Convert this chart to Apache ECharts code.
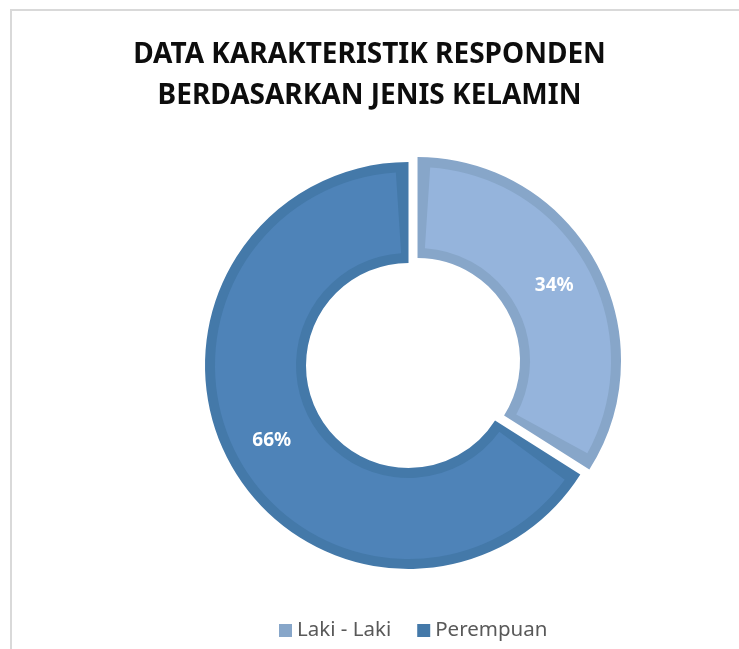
<!DOCTYPE html>
<html>
<head>
<meta charset="utf-8">
<script src="https://cdn.jsdelivr.net/npm/echarts@6/dist/echarts.min.js"></script>
<style>
  html, body { margin: 0; padding: 0; background: #fff; }
  #main { position: absolute; left: 0; top: 0; width: 739px; height: 649px; }
  #frame { position: absolute; left: 10px; top: 9px; right: 0; bottom: 0;
           border-top: 2px solid #d9d9d9; border-left: 2px solid #d9d9d9; pointer-events: none; }
</style>
</head>
<body>
<div id="main"></div>
<div id="frame"></div>
<script>
const categories = ['Laki - Laki', 'Perempuan'];
const values = [34, 66];
const fillColors = ['#95b4dc', '#4e83b8'];
const edgeColors = ['#87a6c9', '#4479a9'];

const chart = echarts.init(document.getElementById('main'));

// outline ring drawn underneath, the lighter fill ring is laid on top of it
const common = {
  type: 'pie',
  center: [408.5, 365.5],
  startAngle: 90,
  clockwise: true,
  selectedMode: 'single',
  selectedOffset: 10.3,
  percentPrecision: 0,
  emphasis: { disabled: true },
  labelLine: { show: false }
};

chart.setOption({
  animation: false,
  title: {
    text: 'DATA KARAKTERISTIK RESPONDEN\nBERDASARKAN JENIS KELAMIN',
    left: 'center',
    top: 30,
    textStyle: {
      fontFamily: 'Noto Sans',
      fontWeight: 'bold',
      fontSize: 28,
      lineHeight: 41,
      color: '#0d0d0d'
    }
  },
  legend: {
    bottom: 3,
    left: 274,
    icon: 'rect',
    itemWidth: 13,
    itemHeight: 13,
    itemGap: 26,
    textStyle: { fontFamily: 'Noto Sans', fontSize: 20.5, color: '#595959' },
    data: categories.map((name, i) => ({
      name,
      itemStyle: { color: edgeColors[i], borderWidth: 0 }
    }))
  },
  series: [
    Object.assign({}, common, {
      radius: [102.5, 203.5],
      label: { show: false },
      data: categories.map((name, i) => ({
        name,
        value: values[i],
        selected: i === 0,
        itemStyle: { color: edgeColors[i], borderWidth: 0 }
      }))
    }),
    Object.assign({}, common, {
      radius: [112.5, 193.5],
      padAngle: 7.5,
      label: {
        show: true,
        position: 'inside',
        formatter: '{d}%',
        color: '#ffffff',
        fontFamily: 'Noto Sans',
        fontWeight: 'bold',
        fontSize: 19
      },
      data: categories.map((name, i) => ({
        name,
        value: values[i],
        selected: i === 0,
        itemStyle: { color: fillColors[i], borderWidth: 0 }
      }))
    })
  ]
});
</script>
</body>
</html>
